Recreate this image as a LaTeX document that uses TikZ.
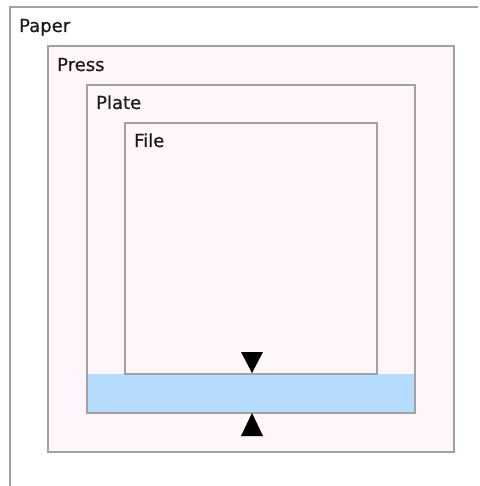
\documentclass[tikz,border=0pt]{standalone}
\usepackage{fontspec}
\setmainfont{DejaVu Sans}
\newfontface\lblfont{DejaVu Sans}[FakeBold=0.6]
\definecolor{bordergray}{HTML}{A2A2A2}
\definecolor{panelpink}{HTML}{FFF6FC}
\definecolor{bandblue}{HTML}{B5DBFF}
\begin{document}
\begin{tikzpicture}[x=1pt,y=-1pt,
  frame/.style={draw=bordergray,line width=1.5pt},
  panel/.style={frame,fill=panelpink},
  lbl/.style={anchor=base west,inner sep=0pt,font=\lblfont\fontsize{18}{20}\selectfont,text=black!90},
  marker/.style={fill=black,draw=none}]
\useasboundingbox (0,0) rectangle (479,486);
\fill[white] (0,0) rectangle (479,486);
% Paper
\draw[frame] (10,486) -- (10,7) -- (478,7);
\node[lbl] (paper) at (19,32) {Paper};
% Press
\draw[panel] (48,46) rectangle (454,452);
\node[lbl] (press) at (57,71) {Press};
% Plate
\fill[panelpink] (87,85) rectangle (415,413);
\fill[bandblue] (87,374) rectangle (415,413);
\draw[frame] (87,85) rectangle (415,413);
\node[lbl] (plate) at (96,109) {Plate};
% File
\draw[panel] (125,123) rectangle (377,374);
\node[lbl] (file) at (134,147) {File};
% markers
\coordinate (dtip) at (252,373);
\coordinate (utip) at (252,413);
\fill[marker] (241,352) -- (263,352) -- (dtip) -- cycle;
\fill[marker] (241,436) -- (263,436) -- (utip) -- cycle;
\end{tikzpicture}
\end{document}
